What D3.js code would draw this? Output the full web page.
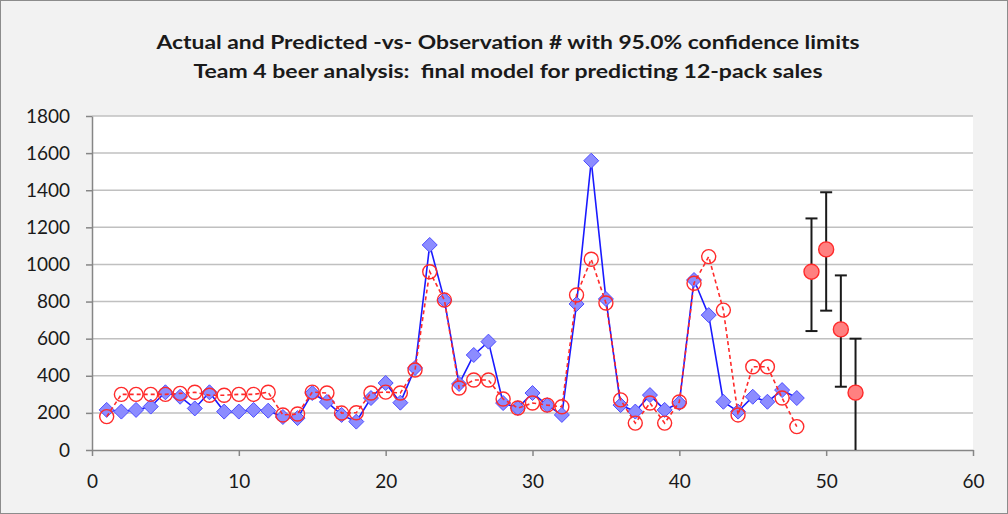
<!DOCTYPE html>
<html>
<head>
<meta charset="utf-8">
<script src="https://cdn.jsdelivr.net/npm/d3@7"></script>
<style>
  body { margin: 0; background: #fff; }
  svg { display: block; }
</style>
</head>
<body>
<svg id="chart"></svg>
<script>
// chart data
const titleLines = [
    'Actual and Predicted -vs- Observation # with 95.0% confidence limits',
    'Team 4 beer analysis:  final model for predicting 12-pack sales'
];
const actual = [216, 207, 216, 234, 311, 287, 224, 311, 207, 207, 216, 212,
    178, 172, 307, 259, 189, 153, 280, 361, 255, 442, 1105, 808,
    356, 512, 584, 253, 226, 307, 242, 189, 787, 1559, 814, 242,
    207, 296, 216, 253, 916, 727, 260, 207, 287, 260, 323, 280];
const predicted = [180, 300, 300, 300, 300, 305, 311, 295, 295, 300, 300, 311,
    189, 194, 312, 307, 199, 201, 307, 312, 307, 431, 961, 808,
    334, 377, 377, 275, 226, 253, 242, 233, 835, 1028, 792, 270,
    145, 253, 145, 259, 899, 1042, 754, 189, 449, 449, 280, 126];
const forecastObs = [49, 50, 51, 52];
const forecast = [961, 1081, 650, 309];
const forecastLow = [641, 751, 341, -20];
const forecastHigh = [1248, 1389, 941, 600];
const xTicks = [0, 10, 20, 30, 40, 50, 60];
const yTicks = [0, 200, 400, 600, 800, 1000, 1200, 1400, 1600, 1800];

const width = 1008;
const height = 514;
const plot = { left: 92, right: 973, top: 116, bottom: 450 };
const font = 'Lato, "Open Sans", sans-serif';

let svg = d3.select('#chart')
    .attr('width', width)
    .attr('height', height);

// outer chart area
svg.append('rect')
    .attr('x', 0.5).attr('y', 0.5)
    .attr('width', width - 1).attr('height', height - 1)
    .attr('fill', '#f2f2f2')
    .attr('stroke', '#8c8c8c');

svg.append('rect')
    .attr('x', plot.left).attr('y', plot.top)
    .attr('width', plot.right - plot.left).attr('height', plot.bottom - plot.top)
    .attr('fill', '#fff');

let x = d3.scaleLinear().domain([0, 60]).range([plot.left, plot.right]);
let y = d3.scaleLinear().domain([0, 1800]).range([plot.bottom, plot.top]);

svg.append('defs').append('clipPath').attr('id', 'clip')
    .append('rect')
    .attr('x', plot.left).attr('y', plot.top - 10)
    .attr('width', plot.right - plot.left).attr('height', plot.bottom - plot.top + 10);

// gridlines
svg.append('g')
    .selectAll('line')
    .data(yTicks.filter(d => d > 0))
    .enter()
    .append('line')
    .attr('x1', plot.left).attr('x2', plot.right)
    .attr('y1', d => y(d)).attr('y2', d => y(d))
    .attr('stroke', '#c0c0c0')
    .attr('stroke-width', 1.5);

// axes
let yAxis = svg.append('g')
    .attr('transform', `translate(${plot.left},0)`)
    .call(d3.axisLeft(y).tickValues(yTicks).tickFormat(d3.format('d'))
        .tickSize(6).tickSizeOuter(0).tickPadding(16));
let xAxis = svg.append('g')
    .attr('transform', `translate(0,${plot.bottom})`)
    .call(d3.axisBottom(x).tickValues(xTicks).tickFormat(d3.format('d'))
        .tickSize(6).tickSizeOuter(0).tickPadding(19));

[yAxis, xAxis].forEach(ax => {
    ax.selectAll('path, line').attr('stroke', '#868686').attr('stroke-width', 1.5);
    ax.selectAll('text')
        .attr('font-family', font)
        .attr('font-size', 19)
        .attr('fill', '#1a1a1a');
});

let obs = actual.map((d, i) => i + 1);
let chartG = svg.append('g').attr('clip-path', 'url(#clip)');

// actual series
chartG.append('path')
    .datum(actual)
    .attr('fill', 'none')
    .attr('stroke', '#1a1aff')
    .attr('stroke-width', 1.6)
    .attr('d', d3.line().x((d, i) => x(obs[i])).y(d => y(d)));

chartG.selectAll('.diamond')
    .data(actual)
    .enter()
    .append('path')
    .classed('diamond', true)
    .attr('transform', (d, i) => `translate(${x(obs[i])},${y(d)})`)
    .attr('d', 'M0,-7.5L7.5,0L0,7.5L-7.5,0Z')
    .attr('fill', '#8c8cff')
    .attr('stroke', '#4d4dff')
    .attr('stroke-width', 1);

// predicted series
chartG.append('path')
    .datum(predicted)
    .attr('fill', 'none')
    .attr('stroke', '#ff2a2a')
    .attr('stroke-width', 1.6)
    .attr('stroke-dasharray', '4,3')
    .attr('d', d3.line().x((d, i) => x(obs[i])).y(d => y(d)));

chartG.selectAll('.pred')
    .data(predicted)
    .enter()
    .append('circle')
    .classed('pred', true)
    .attr('cx', (d, i) => x(obs[i]))
    .attr('cy', d => y(d))
    .attr('r', 7)
    .attr('fill', 'none')
    .attr('stroke', '#ff2a2a')
    .attr('stroke-width', 1.4);

// forecasts with confidence limits
let bars = chartG.selectAll('.ebar')
    .data(forecast)
    .enter()
    .append('g')
    .classed('ebar', true);

bars.append('line')
    .attr('x1', (d, i) => x(forecastObs[i])).attr('x2', (d, i) => x(forecastObs[i]))
    .attr('y1', (d, i) => y(forecastLow[i])).attr('y2', (d, i) => y(forecastHigh[i]))
    .attr('stroke', '#1a1a1a').attr('stroke-width', 2);
bars.append('line')
    .attr('x1', (d, i) => x(forecastObs[i]) - 6).attr('x2', (d, i) => x(forecastObs[i]) + 6)
    .attr('y1', (d, i) => y(forecastHigh[i])).attr('y2', (d, i) => y(forecastHigh[i]))
    .attr('stroke', '#1a1a1a').attr('stroke-width', 2);
bars.filter((d, i) => forecastLow[i] > 0).append('line')
    .attr('x1', d => x(forecastObs[forecast.indexOf(d)]) - 6)
    .attr('x2', d => x(forecastObs[forecast.indexOf(d)]) + 6)
    .attr('y1', d => y(forecastLow[forecast.indexOf(d)]))
    .attr('y2', d => y(forecastLow[forecast.indexOf(d)]))
    .attr('stroke', '#1a1a1a').attr('stroke-width', 2);

chartG.selectAll('.fc')
    .data(forecast)
    .enter()
    .append('circle')
    .classed('fc', true)
    .attr('cx', (d, i) => x(forecastObs[i]))
    .attr('cy', d => y(d))
    .attr('r', 7.5)
    .attr('fill', '#ff8080')
    .attr('stroke', '#ff2a2a')
    .attr('stroke-width', 1.4);

// title
let titleLengths = [703, 629];
svg.append('g')
    .selectAll('text')
    .data(titleLines)
    .enter()
    .append('text')
    .attr('x', 508)
    .attr('y', (d, i) => 49 + i * 29)
    .attr('text-anchor', 'middle')
    .style('white-space', 'pre')
    .attr('font-family', font)
    .attr('font-weight', 'bold')
    .attr('font-size', 19)
    .attr('fill', '#1a1a1a')
    .attr('textLength', (d, i) => titleLengths[i])
    .attr('lengthAdjust', 'spacingAndGlyphs')
    .text(d => d);
</script>
</body>
</html>
